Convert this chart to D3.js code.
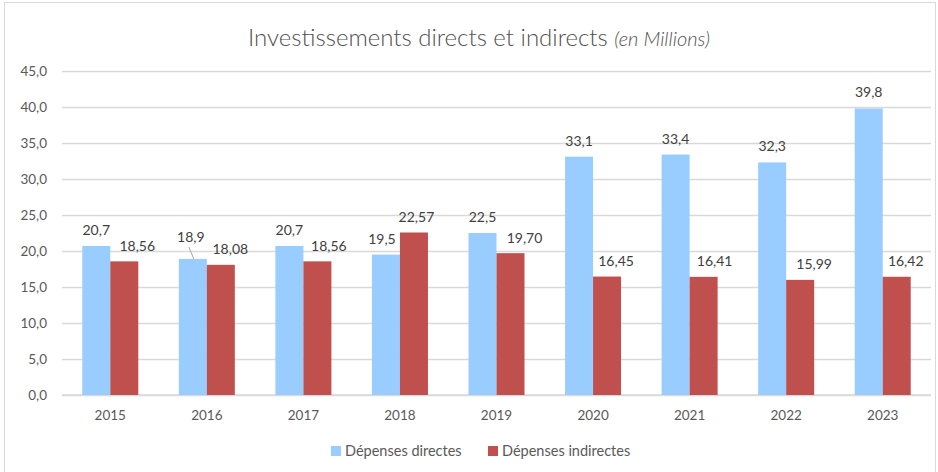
<!DOCTYPE html>
<html><head><meta charset="utf-8">
<script src="https://cdn.jsdelivr.net/npm/d3@7/dist/d3.min.js"></script>
<style>
html,body{margin:0;padding:0;background:#fff;}
svg{display:block;font-family:Lato, "Open Sans", sans-serif;}
</style></head>
<body>
<svg id="chart" width="938" height="472"></svg>
<script>
const years = ["2015","2016","2017","2018","2019","2020","2021","2022","2023"];
const directes = [20.7, 18.9, 20.7, 19.5, 22.5, 33.1, 33.4, 32.3, 39.8];
const indirectes = [18.56, 18.08, 18.56, 22.57, 19.70, 16.45, 16.41, 15.99, 16.42];
const seriesNames = ["Dépenses directes", "Dépenses indirectes"];
const seriesColors = ["#99CCFF", "#C0504D"];
const yTicks = [0, 5, 10, 15, 20, 25, 30, 35, 40, 45];

const loc = d3.formatLocale({decimal: ",", thousands: " ", grouping: [3], currency: ["", "€"]});
const f1 = loc.format(".1f"), f2 = loc.format(".2f");

const svg = d3.select("#chart");
const W = 938, H = 472;

// frame
svg.append("rect").attr("x", 4.5).attr("y", 2.5).attr("width", 931).attr("height", 480)
  .attr("fill", "#fff").attr("stroke", "#d9d9d9").attr("stroke-width", 1);

// title
const title = svg.append("text").attr("x", 479).attr("y", 46).attr("text-anchor", "middle")
  .attr("fill", "#505050");
title.append("tspan").attr("font-size", 24).attr("font-weight", 300).text("Investissements directs et indirects ");
title.append("tspan").attr("font-size", 20).attr("font-style", "italic").attr("font-weight", 300).text("(en Millions)");

const y = d3.scaleLinear().domain([0, 45]).range([H - 77, 71]);
const x0 = d3.scaleBand().domain(years).range([62, 931]).paddingInner(0.42).paddingOuter(0.21);
const x1 = d3.scaleBand().domain(seriesNames).range([0, x0.bandwidth()]);

// gridlines
const yAxis = d3.axisLeft(y).tickValues(yTicks).tickFormat(f1).tickSize(-(931 - 62)).tickPadding(15);
const gy = svg.append("g").attr("transform", "translate(62,0)").call(yAxis);
gy.select(".domain").remove();
gy.selectAll(".tick line").attr("stroke", "#d9d9d9").attr("stroke-width", 1.3);
gy.selectAll(".tick text").attr("fill", "#595959").attr("font-size", 13.5).attr("font-family", "Lato, sans-serif");

// x axis labels
const xAxis = d3.axisBottom(x0).tickSize(0).tickPadding(15);
const gx = svg.append("g").attr("transform", `translate(0,${y(0)})`).call(xAxis);
gx.select(".domain").attr("stroke", "#d9d9d9").attr("stroke-width", 1.3).attr("d", "M62,0H931");
gx.selectAll(".tick text").attr("fill", "#595959").attr("font-size", 13.5).attr("font-family", "Lato, sans-serif");

const rows = years.map((yr, i) => ({year: yr, vals: [directes[i], indirectes[i]]}));

const groups = svg.append("g").selectAll("g").data(rows).join("g")
  .attr("transform", d => `translate(${x0(d.year)},0)`);

groups.selectAll("rect").data(d => d.vals.map((v, j) => ({v, j}))).join("rect")
  .attr("x", d => x1(seriesNames[d.j]))
  .attr("y", d => y(d.v))
  .attr("width", x1.bandwidth())
  .attr("height", d => y(0) - y(d.v))
  .attr("fill", d => seriesColors[d.j]);

// label nudges (layout only)
const blueNudge = {"2016": [-2, -6], "2018": [-4, 0]};
const redNudge = {"2015": 13, "2016": 9.5, "2017": 11.5, "2018": 2.5, "2019": 14, "2020": 9, "2021": 11, "2022": 14, "2023": 9};

rows.forEach(r => {
  const gx0 = x0(r.year);
  const bn = blueNudge[r.year] || [0, 0];
  const bx = gx0 + x1(seriesNames[0]) + x1.bandwidth() / 2;
  const by = y(r.vals[0]);
  svg.append("text").attr("x", bx + bn[0]).attr("y", by - 11 + bn[1]).attr("text-anchor", "middle")
    .attr("fill", "#404040").attr("font-size", 14).text(f1(r.vals[0]));
  if (bn[1] < 0) {
    svg.append("line").attr("x1", bx - 4).attr("y1", by - 12).attr("x2", bx + 1).attr("y2", by)
      .attr("stroke", "#a6a6a6").attr("stroke-width", 1);
  }
  const rx = gx0 + x1(seriesNames[1]) + x1.bandwidth() / 2 + (redNudge[r.year] || 0);
  const ry = y(r.vals[1]);
  svg.append("text").attr("x", rx).attr("y", ry - 10.5).attr("text-anchor", "middle")
    .attr("fill", "#404040").attr("font-size", 14).text(f2(r.vals[1]));
});

// legend
const legend = svg.append("g");
const legItems = [{x: 331, name: seriesNames[0], c: seriesColors[0]}, {x: 488, name: seriesNames[1], c: seriesColors[1]}];
legItems.forEach(it => {
  legend.append("rect").attr("x", it.x).attr("y", 446).attr("width", 10).attr("height", 10).attr("fill", it.c);
  legend.append("text").attr("x", it.x + 14).attr("y", 456).attr("fill", "#595959").attr("font-size", 14.5).text(it.name);
});
</script>
</body></html>
